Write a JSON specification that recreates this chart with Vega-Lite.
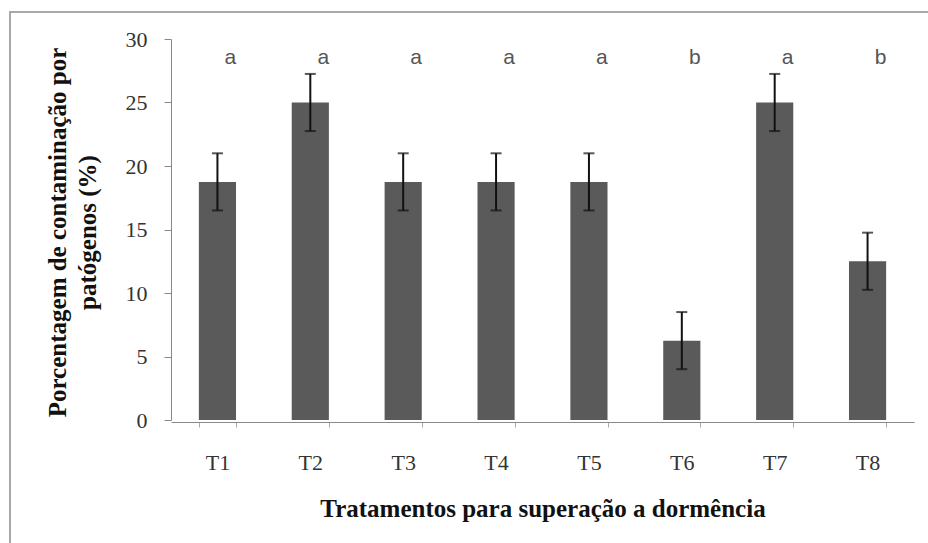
{
  "$schema": "https://vega.github.io/schema/vega-lite/v6.json",
  "width": 920,
  "height": 533,
  "autosize": "none",
  "padding": {"left": 10, "top": 12, "right": -2, "bottom": -2},
  "background": "white",
  "config": {
    "view": {"stroke": "#a8a8a8", "strokeWidth": 2},
    "font": "Liberation Serif"
  },
  "data": {
    "values": [
      {"trat": "T1", "media": 18.75, "lo": 16.5, "hi": 21.0, "letra": "a"},
      {"trat": "T2", "media": 25.0, "lo": 22.75, "hi": 27.25, "letra": "a"},
      {"trat": "T3", "media": 18.75, "lo": 16.5, "hi": 21.0, "letra": "a"},
      {"trat": "T4", "media": 18.75, "lo": 16.5, "hi": 21.0, "letra": "a"},
      {"trat": "T5", "media": 18.75, "lo": 16.5, "hi": 21.0, "letra": "a"},
      {"trat": "T6", "media": 6.25, "lo": 4.0, "hi": 8.5, "letra": "b"},
      {"trat": "T7", "media": 25.0, "lo": 22.75, "hi": 27.25, "letra": "a"},
      {"trat": "T8", "media": 12.5, "lo": 10.25, "hi": 14.75, "letra": "b"}
    ]
  },
  "resolve": {"axis": {"y": "independent"}},
  "encoding": {
    "x": {
      "field": "trat",
      "type": "nominal",
      "sort": null,
      "scale": {"range": [161, 904], "paddingInner": 0.6, "paddingOuter": 0.3},
      "axis": {
        "title": "Tratamentos para superação a dormência",
        "titleFont": "Liberation Serif",
        "titleFontSize": 25,
        "titleFontWeight": "bold",
        "titleColor": "#111",
        "titlePadding": 23,
        "labelFont": "Liberation Serif",
        "labelFontSize": 22,
        "labelColor": "#333",
        "labelAngle": 0,
        "labelPadding": 25,
        "tickSize": 5,
        "tickColor": "#aaa",
        "tickBand": "extent",
        "domainColor": "#888",
        "offset": -123,
        "grid": false
      }
    }
  },
  "layer": [
    {
      "mark": {"type": "bar", "color": "#5a5a5a"},
      "encoding": {
        "y": {
          "field": "media",
          "type": "quantitative",
          "scale": {"domain": [0, 30], "range": [408, 27], "nice": false},
          "axis": {
            "title": ["Porcentagem de contaminação por", "patógenos (%)"],
            "titleFont": "Liberation Serif",
            "titleFontSize": 25,
            "titleFontWeight": "bold",
            "titleColor": "#111",
            "titleLineHeight": 30,
            "titlePadding": 25,
            "titleY": 220,
            "labelFont": "Liberation Serif",
            "labelFontSize": 22,
            "labelColor": "#333",
            "labelPadding": 17,
            "tickSize": 7,
            "tickColor": "#888",
            "domainColor": "#888",
            "values": [0, 5, 10, 15, 20, 25, 30],
            "offset": -161,
            "grid": false
          }
        }
      }
    },
    {
      "mark": {"type": "errorbar", "color": "#111", "thickness": 2, "ticks": {"size": 11}},
      "encoding": {
        "y": {"field": "lo", "type": "quantitative", "axis": null},
        "y2": {"field": "hi"}
      }
    },
    {
      "mark": {"type": "text", "font": "Liberation Sans", "fontSize": 21, "color": "#555", "dx": 13, "baseline": "middle"},
      "encoding": {
        "y": {"datum": 28.5, "axis": null},
        "text": {"field": "letra"}
      }
    }
  ]
}
